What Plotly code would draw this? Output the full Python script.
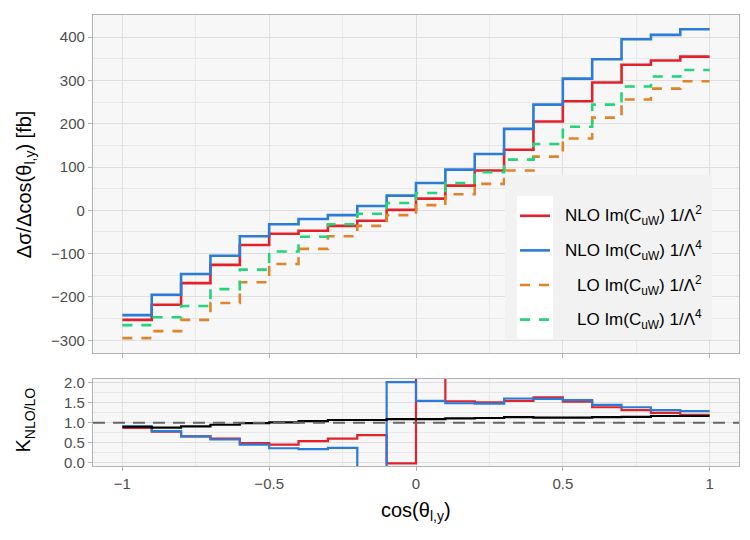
import plotly.graph_objects as go

# ---------------- data ----------------
bin_edges = [-1.0, -0.9, -0.8, -0.7, -0.6, -0.5, -0.4, -0.3, -0.2, -0.1, 0.0,
             0.1, 0.2, 0.3, 0.4, 0.5, 0.6, 0.7, 0.8, 0.9, 1.0]

nlo_lam2 = [-253, -218, -168, -126, -80, -54, -47, -36, -24, 1,
            27, 57, 92, 140, 205, 252, 295, 336, 346, 355]
nlo_lam4 = [-242, -195, -147, -105, -60, -32, -20, -11, 10, 34,
            63, 94, 130, 188, 244, 304, 349, 395, 405, 418]
lo_lam2 = [-295, -279, -253, -214, -166, -124, -89, -60, -36, -11,
           12, 37, 61, 92, 124, 166, 214, 256, 281, 298]
lo_lam4 = [-265, -247, -221, -182, -137, -95, -61, -32, -8, 17,
           40, 63, 88, 117, 153, 193, 244, 286, 309, 324]

k_lam2 = [0.87, 0.78, 0.66, 0.60, 0.49, 0.45, 0.54, 0.60, 0.69, -0.02,
          2.25, 1.54, 1.51, 1.55, 1.64, 1.53, 1.39, 1.32, 1.25, 1.20]
k_lam4 = [0.91, 0.79, 0.66, 0.58, 0.45, 0.36, 0.34, 0.37, -1.25, 2.02,
          1.55, 1.49, 1.48, 1.61, 1.60, 1.57, 1.45, 1.39, 1.32, 1.29]
k_sm = [0.90, 0.88, 0.91, 0.95, 0.99, 1.01, 1.04, 1.07, 1.07, 1.09,
        1.09, 1.11, 1.12, 1.14, 1.13, 1.13, 1.14, 1.15, 1.17, 1.17]

labels = ["NLO Im(C<sub>uW</sub>) 1/Λ<sup>2</sup>",
          "NLO Im(C<sub>uW</sub>) 1/Λ<sup>4</sup>",
          "LO Im(C<sub>uW</sub>) 1/Λ<sup>2</sup>",
          "LO Im(C<sub>uW</sub>) 1/Λ<sup>4</sup>"]

x_ticks = [-1, -0.5, 0, 0.5, 1]
x_ticktext = ["\u22121", "\u22120.5", "0", "0.5", "1"]
y_ticks = [-300, -200, -100, 0, 100, 200, 300, 400]
y_ticktext = ["\u2212300", "\u2212200", "\u2212100", "0", "100", "200", "300", "400"]
k_ticks = [0.0, 0.5, 1.0, 1.5, 2.0]
k_ticktext = ["0.0", "0.5", "1.0", "1.5", "2.0"]

# ---------------- style ----------------
RED = "#e2222a"
BLUE = "#2b7bd8"
ORANGE = "#e0842a"
GREEN = "#22d47a"
colors = [RED, BLUE, ORANGE, GREEN]
dashes = ["solid", "solid", "10px,9px", "10px,9px"]
FONT = "Liberation Sans, Arial, sans-serif"
GRID = "#dedede"
MINOR = "#e9e9e9"
BORDER = "#b3b3b3"
BG = "#f7f7f7"


def step(vals):
    return list(vals) + [vals[-1]]


fig = go.Figure()

for vals, col, dsh, name in zip([nlo_lam2, nlo_lam4, lo_lam2, lo_lam4],
                                colors, dashes, labels):
    fig.add_trace(go.Scatter(x=bin_edges, y=step(vals), mode="lines",
                             line=dict(color=col, width=2.6, dash=dsh, shape="hv"),
                             name=name, showlegend=False,
                             xaxis="x", yaxis="y"))

for vals, col in zip([k_lam2, k_lam4, k_sm], [RED, BLUE, "#000000"]):
    fig.add_trace(go.Scatter(x=bin_edges, y=step(vals), mode="lines",
                             line=dict(color=col, width=2.2, shape="hv"),
                             showlegend=False, xaxis="x2", yaxis="y2"))

# plot-area geometry (pixels) for helper conversions
L, R, T, B = 93, 739, 10, 466
W, H = R - L, B - T


def px(xp):
    return (xp - L) / W


def py(yp):
    return (B - yp) / H


common_axis = dict(showline=True, mirror=True, linecolor=BORDER, linewidth=1.3,
                   ticks="outside", ticklen=4, tickcolor=BORDER, tickwidth=1,
                   gridcolor=GRID, gridwidth=1, zeroline=False,
                   tickfont=dict(family=FONT, size=15, color="#4d4d4d"))

fig.update_layout(
    width=750, height=540,
    margin=dict(l=L, r=750 - R, t=T, b=540 - B),
    paper_bgcolor="white", plot_bgcolor=BG,
    font=dict(family=FONT, color="black"),
    showlegend=False,
    xaxis=dict(common_axis, domain=[0, 1], anchor="y", range=[-1.1, 1.1],
               tickvals=x_ticks, ticktext=x_ticktext, showticklabels=False,
               minor=dict(tickvals=[-0.75, -0.25, 0.25, 0.75], showgrid=True,
                          gridcolor=MINOR, gridwidth=0.6)),
    yaxis=dict(common_axis, domain=[py(352), 1], anchor="x", range=[-330, 451],
               tickvals=y_ticks, ticktext=y_ticktext,
               minor=dict(tickvals=[-250, -150, -50, 50, 150, 250, 350],
                          showgrid=True, gridcolor=MINOR, gridwidth=0.6)),
    xaxis2=dict(common_axis, domain=[0, 1], anchor="y2", range=[-1.1, 1.1],
                matches="x", tickvals=x_ticks, ticktext=x_ticktext,
                minor=dict(tickvals=[-0.75, -0.25, 0.25, 0.75], showgrid=True,
                           gridcolor=MINOR, gridwidth=0.6)),
    yaxis2=dict(common_axis, domain=[0, py(378)], anchor="x2", range=[-0.085, 2.1],
                tickvals=k_ticks, ticktext=k_ticktext,
                minor=dict(tickvals=[0.25, 0.75, 1.25, 1.75], showgrid=True,
                           gridcolor=MINOR, gridwidth=0.6)),
)

# reference line K = 1 in the ratio panel
fig.add_shape(type="line", xref="x2 domain", yref="y2", x0=0, x1=1, y0=1, y1=1,
              line=dict(color="#666666", width=2, dash="12px,8px"), layer="above")

# legend box (drawn manually to mimic right-aligned entries)
fig.add_shape(type="rect", xref="paper", yref="paper",
              x0=px(505), x1=px(712), y0=py(338), y1=py(172),
              fillcolor="#f2f2f2", line=dict(width=0), layer="above")
fig.add_shape(type="rect", xref="paper", yref="paper",
              x0=px(517), x1=px(553), y0=py(337), y1=py(193),
              fillcolor="white", line=dict(width=0), layer="above")
rows = [213, 248, 283, 318]
for r, col, dsh, name in zip(rows, colors, dashes, labels):
    fig.add_shape(type="line", xref="paper", yref="paper",
                  x0=px(520), x1=px(550), y0=py(r), y1=py(r),
                  line=dict(color=col, width=2.6, dash=dsh), layer="above")
    fig.add_annotation(xref="paper", yref="paper", x=px(704), y=py(r),
                       xanchor="right", yanchor="middle", showarrow=False,
                       text=name, font=dict(family=FONT, size=17, color="black"))

# axis titles
fig.add_annotation(xref="paper", yref="paper", x=px(25), y=py(181),
                   xanchor="center", yanchor="middle", showarrow=False,
                   textangle=-90,
                   text="Δσ/Δcos(θ<sub>l,y</sub>) [fb]",
                   font=dict(family=FONT, size=20, color="black"))
fig.add_annotation(xref="paper", yref="paper", x=px(25), y=py(420),
                   xanchor="center", yanchor="middle", showarrow=False,
                   textangle=-90,
                   text="K<sub>NLO/LO</sub>",
                   font=dict(family=FONT, size=20, color="black"))
fig.add_annotation(xref="paper", yref="paper", x=px(416), y=py(512),
                   xanchor="center", yanchor="middle", showarrow=False,
                   text="cos(θ<sub>l,y</sub>)",
                   font=dict(family=FONT, size=20, color="black"))

fig.write_html("out.html")
